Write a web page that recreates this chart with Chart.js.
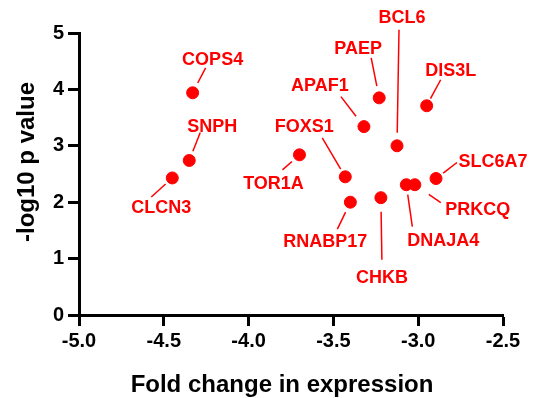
<!DOCTYPE html>
<html>
<head>
<meta charset="utf-8">
<script src="https://cdn.jsdelivr.net/npm/chart.js@4.4.0/dist/chart.umd.min.js"></script>
<style>
  body { margin: 0; background: #fff; }
  #wrap { width: 538px; height: 398px; }
</style>
</head>
<body>
<div id="wrap"><canvas id="volcano" width="538" height="398"></canvas></div>
<script>
// values
var genes = ['COPS4', 'SNPH', 'CLCN3', 'BCL6', 'PAEP', 'DIS3L', 'APAF1', 'FOXS1',
             'TOR1A', 'SLC6A7', 'PRKCQ', 'DNAJA4', 'RNABP17', 'CHKB'];
var foldChange = [-4.33, -4.35, -4.45, -3.125, -3.23, -2.95, -3.32, -3.43,
                  -3.70, -2.895, -3.02, -3.07, -3.40, -3.22];
var negLogP = [3.94, 2.74, 2.43, 3.00, 3.85, 3.71, 3.34, 2.45,
               2.84, 2.42, 2.31, 2.31, 2.00, 2.08];
var xTicks = [-5.0, -4.5, -4.0, -3.5, -3.0, -2.5];
var yTicks = [0, 1, 2, 3, 4, 5];
var xTitle = 'Fold change in expression';
var yTitle = '-log10 p value';

// where each gene label sits relative to its dot (px): text centre, leader end, gap at dot
var labelPlace = {
  COPS4:   { t: [20, -34], e: [13, -25], g: 11 },
  SNPH:    { t: [23, -34], e: [11, -28], g: 10 },
  CLCN3:   { t: [-11, 29], e: [-21, 19], g: 9 },
  BCL6:    { t: [5, -129], e: [2, -116], g: 13 },
  PAEP:    { t: [-21, -50], e: [-8, -40], g: 12 },
  DIS3L:   { t: [24, -36], e: [14, -26], g: 8 },
  APAF1:   { t: [-44, -42], e: [-23, -30], g: 13 },
  FOXS1:   { t: [-41, -51], e: [-23, -39], g: 9 },
  TOR1A:   { t: [-26, 28], e: [-17, 15], g: 10 },
  SLC6A7:  { t: [57, -17], e: [21, -16], g: 9 },
  PRKCQ:   { t: [63, 24], e: [26, 18], g: 17 },
  DNAJA4:  { t: [37, 55], e: [6, 42], g: 10 },
  RNABP17: { t: [-25, 39], e: [-13, 27], g: 11 },
  CHKB:    { t: [1, 79], e: [1, 62], g: 14 }
};

var points = genes.map(function (g, i) {
  return { x: foldChange[i], y: negLogP[i] };
});

var red = '#ff0000';
var fontFam = '"Liberation Sans", Arial, sans-serif';

var geneLabels = {
  id: 'geneLabels',
  afterDatasetsDraw: function (chart) {
    var ctx = chart.ctx;
    var meta = chart.getDatasetMeta(0);
    ctx.save();
    ctx.strokeStyle = red;
    ctx.fillStyle = red;
    ctx.lineWidth = 1.5;
    ctx.font = 'bold 18px ' + fontFam;
    ctx.textAlign = 'center';
    ctx.textBaseline = 'middle';
    meta.data.forEach(function (pt, i) {
      var p = labelPlace[genes[i]];
      var ex = pt.x + p.e[0], ey = pt.y + p.e[1];
      var len = Math.sqrt(p.e[0] * p.e[0] + p.e[1] * p.e[1]);
      var sx = pt.x + p.e[0] / len * p.g, sy = pt.y + p.e[1] / len * p.g;
      ctx.beginPath();
      ctx.moveTo(sx, sy);
      ctx.lineTo(ex, ey);
      ctx.stroke();
      ctx.fillText(genes[i], pt.x + p.t[0], pt.y + p.t[1] + 1);
    });
    ctx.restore();
  }
};

// axis titles sit a bit left / up of the plot centre in the original
var axisTitles = {
  id: 'axisTitles',
  afterDraw: function (chart) {
    var ctx = chart.ctx;
    ctx.save();
    ctx.fillStyle = '#000';
    ctx.font = 'bold 24px ' + fontFam;
    ctx.textAlign = 'center';
    ctx.textBaseline = 'middle';
    ctx.fillText(xTitle, 282, 385);
    ctx.translate(26, 162);
    ctx.rotate(-Math.PI / 2);
    ctx.fillText(yTitle, 0, 1);
    ctx.restore();
  }
};

var ctx = document.getElementById('volcano').getContext('2d');
var volcano = new Chart(ctx, {
  type: 'scatter',
  data: {
    datasets: [{
      data: points,
      backgroundColor: red,
      borderColor: red,
      pointRadius: 6,
      pointHoverRadius: 6
    }]
  },
  options: {
    responsive: false,
    animation: false,
    layout: { padding: { top: 33, right: 35, left: 0, bottom: 0 } },
    plugins: { legend: { display: false }, tooltip: { enabled: false } },
    scales: {
      x: {
        type: 'linear',
        min: -5, max: -2.5,
        afterBuildTicks: function (s) { s.ticks = xTicks.map(function (v) { return { value: v }; }); },
        afterFit: function (s) { s.height = 83; },
        ticks: {
          color: '#000',
          font: { family: fontFam, size: 20, weight: 'bold' },
          padding: 3,
          callback: function (v) { return v.toFixed(1); }
        },
        grid: { drawOnChartArea: false, tickLength: 11, tickWidth: 3, tickColor: '#000' },
        border: { color: '#000', width: 3 }
      },
      y: {
        min: 0, max: 5,
        afterBuildTicks: function (s) { s.ticks = yTicks.map(function (v) { return { value: v }; }); },
        afterFit: function (s) { s.width = 79; },
        ticks: {
          color: '#000',
          font: { family: fontFam, size: 20, weight: 'bold' },
          padding: 4
        },
        grid: { drawOnChartArea: false, tickLength: 11, tickWidth: 3, tickColor: '#000' },
        border: { color: '#000', width: 3 }
      }
    }
  },
  plugins: [geneLabels, axisTitles]
});
</script>
</body>
</html>
